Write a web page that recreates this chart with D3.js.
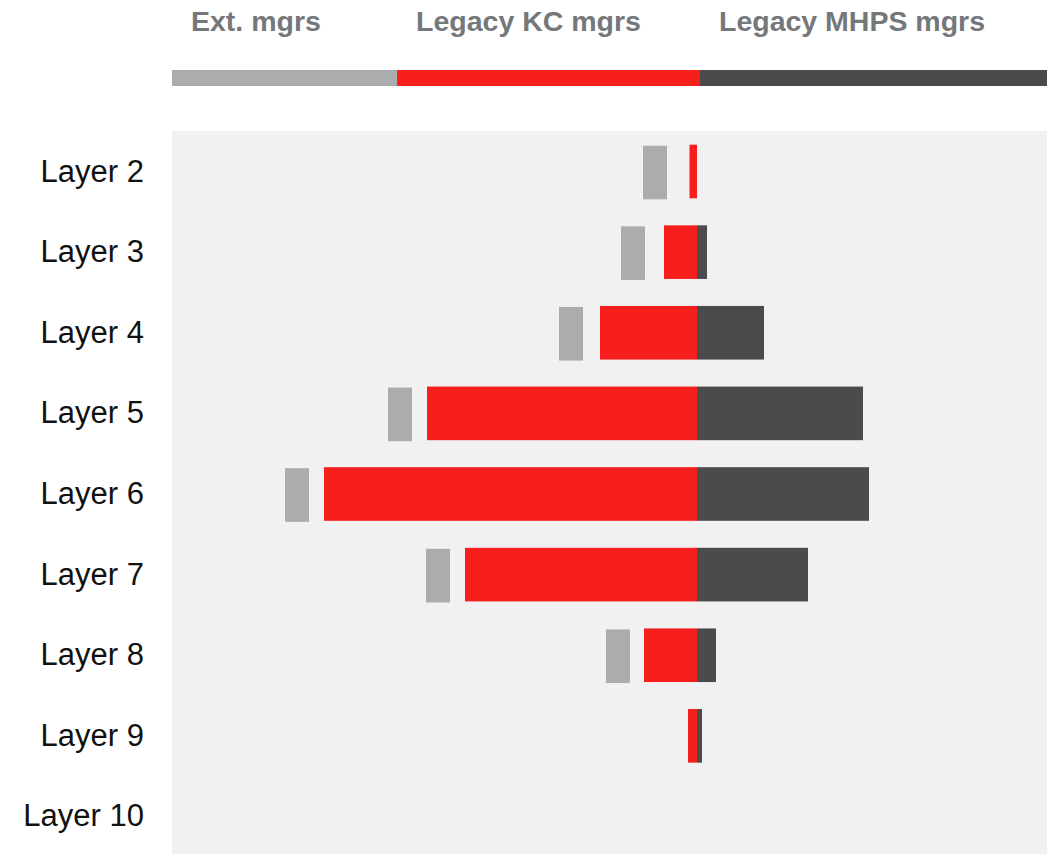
<!DOCTYPE html>
<html>
<head>
<meta charset="utf-8">
<script src="https://cdn.jsdelivr.net/npm/d3@7"></script>
<style>
  html, body { margin: 0; padding: 0; background: #ffffff; }
  svg { display: block; }
</style>
</head>
<body>
<svg id="chart" width="1053" height="854"></svg>
<script>
// Manager headcount by layer
const layers = ["Layer 2", "Layer 3", "Layer 4", "Layer 5", "Layer 6", "Layer 7", "Layer 8", "Layer 9", "Layer 10"];
// Legacy KC managers (drawn leftwards from the centre line)
const kcMgrs = [3, 13.2, 38.8, 108, 149.2, 92.8, 21.2, 3.6, 0];
// Legacy MHPS managers (drawn rightwards from the centre line)
const mhpsMgrs = [0, 4, 26.8, 66.4, 68.8, 44.4, 7.6, 2, 0];
// External managers: floating marker span (near edge, far edge) left of the KC bar
const extNear = [12, 20.8, 45.6, 114, 155.2, 98.8, 26.8, null, null];
const extFar = [21.6, 30.4, 55.2, 123.6, 164.8, 108.4, 36.4, null, null];
// Legend
const legendLabels = ["Ext. mgrs", "Legacy KC mgrs", "Legacy MHPS mgrs"];
const legendColors = ["#abacae", "#f71e1e", "#4a4b4d"];

const W = 1053, H = 854;
const plot = { left: 172, right: 1047, top: 131, bottom: 857 };

const svg = d3.select("#chart");

const x = d3.scaleLinear().domain([-210, 140]).range([plot.left, plot.right]);
const y = d3.scaleBand().domain(layers).range([plot.top, plot.bottom])
  .paddingInner(0.335).paddingOuter(0.17);

// Legend strip
const legendBreaks = [0, 0.2572, 0.6034, 1];
const lx = d3.scaleLinear().domain([0, 1]).range([plot.left, plot.right]);
const legend = svg.append("g");
legend.selectAll("rect").data(legendLabels).join("rect")
  .attr("x", (d, i) => lx(legendBreaks[i]))
  .attr("width", (d, i) => lx(legendBreaks[i + 1]) - lx(legendBreaks[i]))
  .attr("y", 70).attr("height", 16)
  .attr("fill", (d, i) => legendColors[i]);
legend.selectAll("text").data(legendLabels).join("text")
  .attr("x", (d, i) => lx(legendBreaks[i]) + 19)
  .attr("y", 31)
  .attr("font-family", "'Liberation Sans', Arial, sans-serif")
  .attr("font-weight", "bold")
  .attr("font-size", 28.5)
  .attr("fill", "#75787b")
  .text(d => d);

// Plot background
svg.append("rect")
  .attr("x", plot.left).attr("y", plot.top)
  .attr("width", plot.right - plot.left).attr("height", H - plot.top)
  .attr("fill", "#f1f1f1");

const rows = layers.map((l, i) => ({
  layer: l, kc: kcMgrs[i], mhps: mhpsMgrs[i], near: extNear[i], far: extFar[i]
}));

const bars = svg.append("g");

// External managers markers
bars.selectAll("rect.ext").data(rows.filter(d => d.near != null)).join("rect")
  .attr("class", "ext")
  .attr("x", d => x(-d.far))
  .attr("width", d => x(-d.near) - x(-d.far))
  .attr("y", d => y(d.layer) + 1)
  .attr("height", y.bandwidth())
  .attr("fill", legendColors[0]);

// Legacy KC bars
bars.selectAll("rect.kc").data(rows.filter(d => d.kc > 0)).join("rect")
  .attr("class", "kc")
  .attr("x", d => x(-d.kc))
  .attr("width", d => x(0) - x(-d.kc))
  .attr("y", d => y(d.layer))
  .attr("height", y.bandwidth())
  .attr("fill", legendColors[1]);

// Legacy MHPS bars
bars.selectAll("rect.mhps").data(rows.filter(d => d.mhps > 0)).join("rect")
  .attr("class", "mhps")
  .attr("x", x(0))
  .attr("width", d => x(d.mhps) - x(0))
  .attr("y", d => y(d.layer))
  .attr("height", y.bandwidth())
  .attr("fill", legendColors[2]);

// Layer labels
svg.append("g").selectAll("text").data(layers).join("text")
  .attr("x", 144)
  .attr("y", d => y(d) + y.bandwidth() / 2 + 10)
  .attr("text-anchor", "end")
  .attr("font-family", "'Liberation Sans', Arial, sans-serif")
  .attr("font-size", 31)
  .attr("fill", "#111111")
  .text(d => d);
</script>
</body>
</html>
